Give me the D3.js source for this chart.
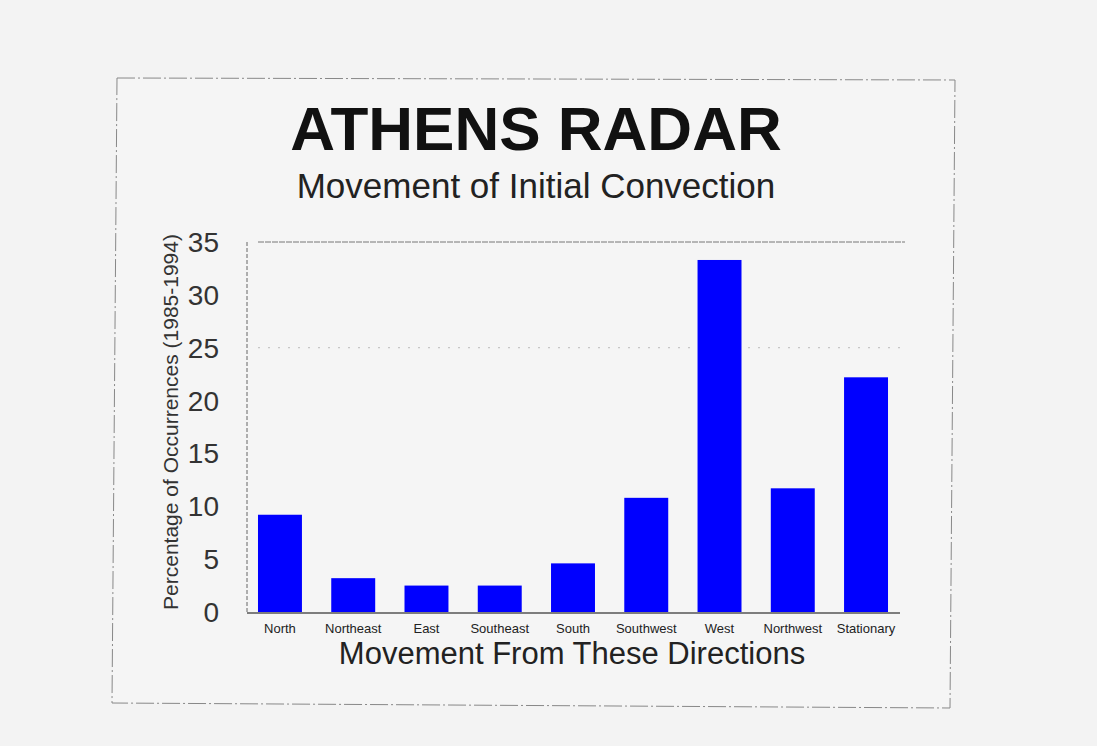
<!DOCTYPE html>
<html lang="en">
<head>
    <meta charset="UTF-8" />
    <title>Athens Radar - Movement of Initial Convection</title>
    <script src="https://d3js.org/d3.v7.min.js"></script>
    <style>
        body {
            margin: 0;
            background-color: #f3f3f3;
            font-family: "Liberation Sans", Arial, sans-serif;
        }
    </style>
</head>
<body>
    <svg id="chart" width="1097" height="746"></svg>
    <script>
        // Data
        const directions = ["North", "Northeast", "East", "Southeast", "South", "Southwest", "West", "Northwest", "Stationary"];
        const percentages = [9.2, 3.2, 2.5, 2.5, 4.6, 10.8, 33.3, 11.7, 22.2];
        const yTicks = [0, 5, 10, 15, 20, 25, 30, 35];

        const svg = d3.select("#chart");

        // page frame (dashed, like the scanned sheet)
        svg.append("path")
            .attr("d", "M117,78 L955,80 L950,708 L112,703 Z")
            .attr("fill", "#f5f5f5")
            .attr("stroke", "#888")
            .attr("stroke-width", 1)
            .attr("stroke-dasharray", "18,3,2,3");

        const x = d3.scaleBand()
            .domain(directions)
            .range([247, 899])
            .paddingInner(0.4)
            .paddingOuter(0.15);

        const y = d3.scaleLinear()
            .domain([0, 35])
            .range([612, 242]);

        // top gridline + faint one at 25
        svg.append("line")
            .attr("x1", 258).attr("x2", 905)
            .attr("y1", y(35)).attr("y2", y(35))
            .attr("stroke", "#777")
            .attr("stroke-dasharray", "6,1");
        svg.append("line")
            .attr("x1", 258).attr("x2", 905)
            .attr("y1", y(25)).attr("y2", y(25))
            .attr("stroke", "#bbb")
            .attr("stroke-dasharray", "2,8");

        // y axis line (dashed)
        svg.append("line")
            .attr("x1", 247).attr("x2", 247)
            .attr("y1", y(35)).attr("y2", y(0))
            .attr("stroke", "#666")
            .attr("stroke-dasharray", "4,2");

        // bars
        svg.selectAll(".bar")
            .data(percentages)
            .enter().append("rect")
            .attr("class", "bar")
            .attr("x", (d, i) => x(directions[i]))
            .attr("width", x.bandwidth())
            .attr("y", d => y(d))
            .attr("height", d => y(0) - y(d))
            .attr("fill", "#0000ff");

        // baseline
        svg.append("line")
            .attr("x1", 247).attr("x2", 900)
            .attr("y1", y(0) + 1).attr("y2", y(0) + 1)
            .attr("stroke", "#555")
            .attr("stroke-width", 1.5);

        // y tick labels
        svg.selectAll(".ytick")
            .data(yTicks)
            .enter().append("text")
            .attr("class", "ytick")
            .attr("x", 219)
            .attr("y", d => y(d) + 10)
            .attr("text-anchor", "end")
            .attr("font-size", "28px")
            .attr("fill", "#333")
            .text(d => d);

        // x tick labels
        svg.selectAll(".xtick")
            .data(directions)
            .enter().append("text")
            .attr("class", "xtick")
            .attr("x", d => x(d) + x.bandwidth() / 2)
            .attr("y", 633)
            .attr("text-anchor", "middle")
            .attr("font-size", "13px")
            .attr("fill", "#222")
            .text(d => d);

        // titles
        svg.append("text")
            .attr("x", 536).attr("y", 150)
            .attr("text-anchor", "middle")
            .attr("font-size", "62px")
            .attr("font-weight", "bold")
            .attr("fill", "#111")
            .text("ATHENS RADAR");

        svg.append("text")
            .attr("x", 536).attr("y", 198)
            .attr("text-anchor", "middle")
            .attr("font-size", "35px")
            .attr("fill", "#222")
            .text("Movement of Initial Convection");

        svg.append("text")
            .attr("x", 572).attr("y", 664)
            .attr("text-anchor", "middle")
            .attr("font-size", "31px")
            .attr("fill", "#222")
            .text("Movement From These Directions");

        svg.append("text")
            .attr("transform", "translate(178,422) rotate(-90)")
            .attr("text-anchor", "middle")
            .attr("font-size", "21px")
            .attr("fill", "#333")
            .text("Percentage of Occurrences (1985-1994)");
    </script>
</body>
</html>
